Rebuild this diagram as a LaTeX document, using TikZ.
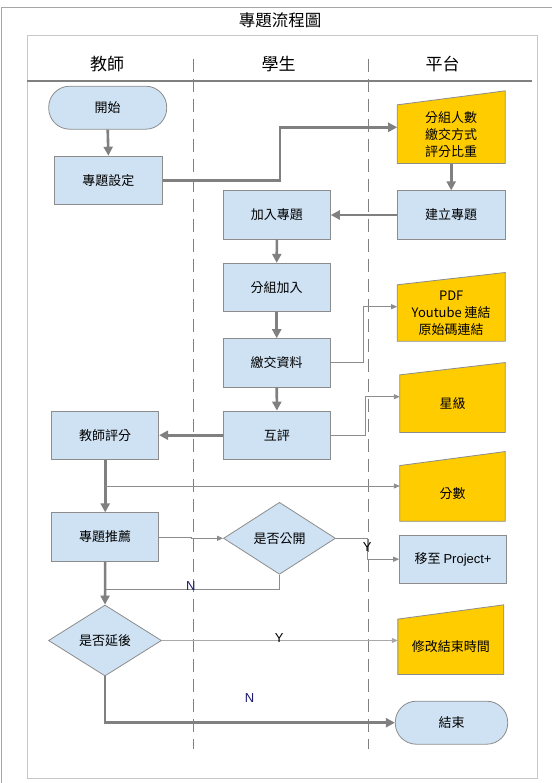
\documentclass[tikz,border=0pt]{standalone}
\usepackage{fontspec}
\setmainfont{Liberation Sans}
\newfontfamily\cjk{Noto Sans CJK TC}
\usetikzlibrary{shapes.geometric,arrows.meta,backgrounds,calc}
\definecolor{boxblue}{HTML}{CFE2F3}
\definecolor{boxline}{HTML}{8C8C8C}
\definecolor{ioyellow}{HTML}{FFCC00}
\definecolor{linegray}{HTML}{808080}
\definecolor{thingray}{HTML}{8C8C8C}
\definecolor{labnavy}{HTML}{1A1A6E}
\tikzset{
  txt/.style={font=\cjk\fontsize{13}{17}\selectfont, text=black, align=center},
  procbox/.style={txt, draw=boxline, fill=boxblue, line width=0.8pt, minimum width=107pt, minimum height=48.4pt, inner sep=1pt},
  termbox/.style={txt, draw=boxline, fill=boxblue, line width=0.8pt, rounded corners=21pt, minimum height=43pt, inner sep=1pt},
  decbox/.style={txt, diamond, draw=boxline, fill=boxblue, line width=0.8pt, inner sep=1pt},
  iobox/.style={txt, minimum width=106pt, inner sep=1pt},
  iofill/.style={draw=boxline, fill=ioyellow, line width=0.8pt},
  bigflow/.style={draw=linegray, line width=2.6pt, -{Triangle[length=9pt,width=9pt]}},
  smallflow/.style={draw=thingray, line width=0.9pt, -{Triangle[length=6pt,width=5pt]}},
  plainflow/.style={draw=thingray, line width=0.9pt},
  lane/.style={draw=linegray, line width=0.8pt, dash pattern=on 13pt off 7pt},
  header/.style={font=\cjk\fontsize{17}{20}\selectfont, text=black},
  ylab/.style={font=\fontsize{13}{15}\selectfont, text=black},
  nlab/.style={font=\fontsize{13}{15}\selectfont, text=labnavy},
}
\begin{document}
\begin{tikzpicture}[x=1pt,y=-1pt]
\useasboundingbox (0,0) rectangle (551,783);
% frames
\draw[draw=linegray!70, line width=1pt] (1,790) -- (1,7.5) -- (560,7.5);
\draw[draw=black!22, line width=0.9pt] (27.4,35) rectangle (537.6,778.3);
\node[font=\cjk\fontsize{16.5}{20}\selectfont] (title) at (280,20.5) {專題流程圖};
% lanes
\node[header] (h1) at (107,64.5) {教師};
\node[header] (h2) at (278.6,64.5) {學生};
\node[header] (h3) at (442.7,64.5) {平台};
\draw[draw=linegray, line width=2pt] (27.4,80.7) -- (531.6,80.7);
\draw[lane] (193.3,59) -- (193.3,749);
\draw[lane] (367.9,59) -- (367.9,749);
% nodes
\node[termbox, minimum width=118pt] (start) at (107.7,107.7) {開始};
\node[procbox, minimum width=108pt] (set) at (108.4,180.3) {專題設定};
\node[iobox, minimum width=107.6pt, minimum height=58.3pt] (setup) at (451.2,134.2) {分組人數\\繳交方式\\評分比重};
\node[procbox, minimum width=107.6pt] (build) at (451.2,215) {建立專題};
\node[procbox] (join) at (276.9,215) {加入專題};
\node[procbox] (group) at (276.7,287.5) {分組加入};
\node[procbox] (submit) at (276.7,362.8) {繳交資料};
\node[iobox, minimum width=107.7pt, minimum height=56pt] (pdf) at (451.2,313) {PDF\\Youtube {\cjk 連結}\\原始碼連結};
\node[procbox] (peer) at (276.9,435.2) {互評};
\node[iobox, minimum width=105pt, minimum height=57.3pt] (star) at (452.5,403.7) {星級};
\node[procbox] (teval) at (105.2,435.2) {教師評分};
\node[iobox, minimum width=105pt, minimum height=55.3pt] (score) at (452.5,493.4) {分數};
\node[procbox] (rec) at (105.2,537) {專題推薦};
\node[decbox, minimum width=112pt, minimum height=72pt] (pub) at (279.5,538.3) {是否公開};
\node[procbox] (move) at (453.1,559.2) {移至 {\fontspec{Liberation Sans}Project+}};
\node[decbox, minimum width=113pt, minimum height=71pt] (delay) at (105,640.5) {是否延後};
\node[iobox, minimum width=105.5pt, minimum height=55pt] (modify) at (450.8,646.8) {修改結束時間};
\node[termbox, minimum width=112.4pt] (finish) at (451.5,722.7) {結束};
% manual input shapes
\begin{scope}[on background layer]
\foreach \n/\d in {setup/14, pdf/12.3, star/12.3, score/14, modify/14.3}{
  \path[iofill] (\n.south west) -- (\n.south east) -- ($(\n.north east)+(0,-\d)$) -- (\n.north west) -- cycle;
}
\end{scope}
% connectors
\draw[bigflow] (start.south) -- (set.north);
\draw[bigflow] (set.east) -- (280,180.3) -- (280,127.3) -- (setup.west |- 0,127.3);
\draw[bigflow] (setup.south -| build.north) -- (build.north);
\draw[bigflow] (build.west) -- (join.east);
\draw[bigflow] (join.south) -- (group.north);
\draw[bigflow] (group.south) -- (submit.north);
\draw[bigflow] (submit.south) -- (peer.north);
\draw[smallflow] (submit.east) -- (363.3,362.8) -- (363.3,306.7) -- (pdf.west |- 0,306.7);
\draw[smallflow] (peer.east) -- (365.7,435.2) -- (365.7,396.7) -- (star.west |- 0,396.7);
\draw[bigflow] (peer.west) -- (teval.east);
\draw[bigflow] (teval.south) -- (rec.north);
\coordinate (branch) at (teval.south |- 0,486);
\draw[smallflow] (branch) -- (score.west |- branch);
\draw[smallflow] (rec.east) -- (191.5,537) -- (191.5,538.3) -- (pub.west);
\draw[smallflow] (pub.east) -- (367.2,538.3) |- (move.west);
\node[ylab] (ypub) at (367.2,547) {Y};
\coordinate (njoin) at (rec.south |- 0,589.3);
\draw[plainflow] (pub.south) |- (njoin);
\node[nlab] (npub) at (190.8,586.5) {N};
\draw[bigflow] (rec.south) -- (delay.north);
\draw[draw=thingray!75, line width=0.9pt, -{Triangle[length=6pt,width=5pt]}] (delay.east) -- (modify.west |- delay.east);
\node[ylab] (ydel) at (279.3,638.5) {Y};
\draw[bigflow] (delay.south) |- (finish.west);
\node[nlab] (ndel) at (249.5,698.3) {N};
\end{tikzpicture}
\end{document}
